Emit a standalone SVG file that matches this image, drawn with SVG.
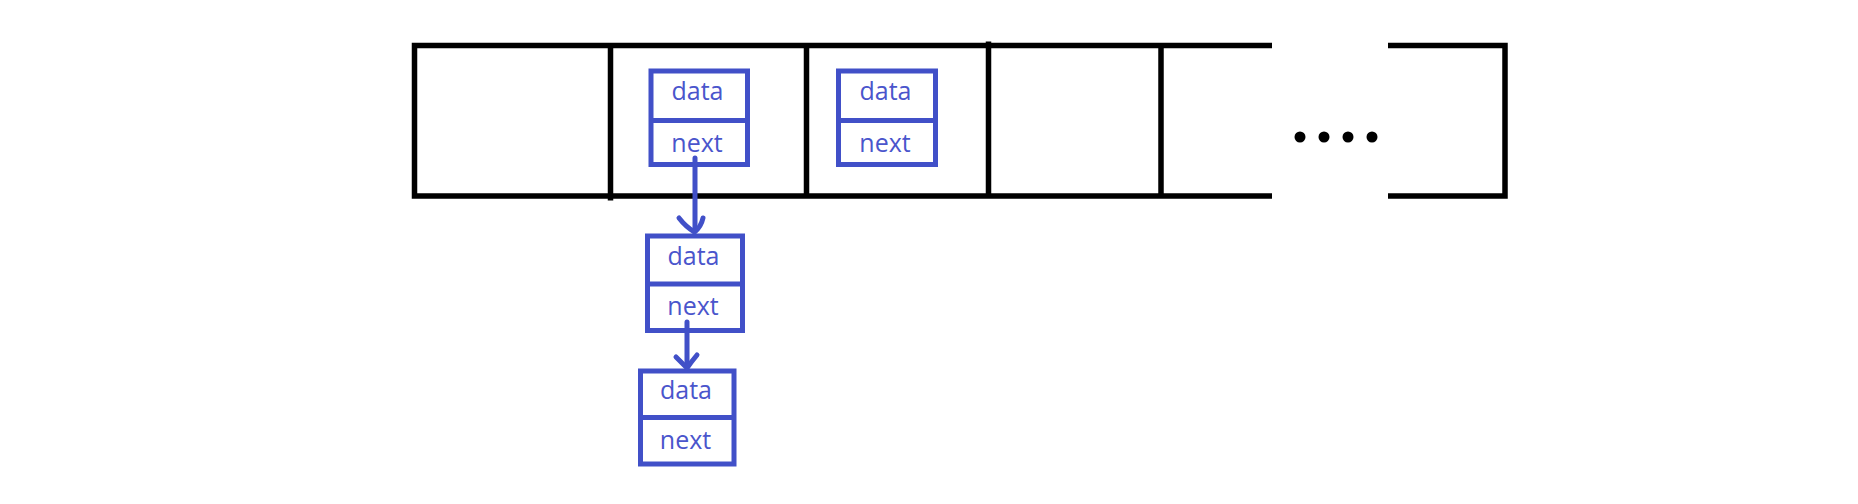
<svg xmlns="http://www.w3.org/2000/svg" width="1858" height="504" viewBox="0 0 1858 504">
<style>
.arr{stroke:#000;stroke-width:5.5;fill:none}
.nb{fill:#fff;stroke:#4150C8;stroke-width:5}
.nl{stroke:#4150C8;stroke-width:5}
.t{font-family:"Open Sans","Noto Sans",sans-serif;font-size:25px;fill:#4A55CC;text-anchor:middle}
.c{stroke:#4150C8;stroke-width:5;fill:none;stroke-linecap:round;stroke-linejoin:round}
</style>
<rect width="1858" height="504" fill="#fff"/>
<g id="array">
<path class="arr" d="M1272 45.5 H414.5 V196 H1272"/>
<path class="arr" d="M1388 45.5 H1505 V196 H1388"/>
<line class="arr" x1="610.5" y1="45.5" x2="610.5" y2="200.5"/>
<line class="arr" x1="806.5" y1="45.5" x2="806.5" y2="196"/>
<line class="arr" x1="988.5" y1="41.5" x2="988.5" y2="196"/>
<line class="arr" x1="1161" y1="45.5" x2="1161" y2="196"/>
<circle cx="1300" cy="137" r="5.5"/>
<circle cx="1324" cy="137" r="5.5"/>
<circle cx="1348" cy="137" r="5.5"/>
<circle cx="1372" cy="137" r="5.5"/>
</g>
<g id="node1">
<rect class="nb" x="651" y="71" width="96.5" height="93.5"/>
<line class="nl" x1="651" y1="120.5" x2="747.5" y2="120.5"/>
<text class="t" x="697.5" y="99.5">data</text>
<text class="t" x="697" y="151.5">next</text>
</g>
<g id="node2">
<rect class="nb" x="838.5" y="71" width="97" height="93.5"/>
<line class="nl" x1="838.5" y1="120.5" x2="935.5" y2="120.5"/>
<text class="t" x="885.5" y="99.5">data</text>
<text class="t" x="885" y="151.5">next</text>
</g>
<g id="node3">
<rect class="nb" x="647.5" y="236" width="95" height="94.5"/>
<line class="nl" x1="647.5" y1="284" x2="742.5" y2="284"/>
<text class="t" x="693.5" y="265">data</text>
<text class="t" x="693" y="315">next</text>
</g>
<g id="node4">
<rect class="nb" x="640.5" y="371" width="93.5" height="93"/>
<line class="nl" x1="640.5" y1="417.5" x2="734" y2="417.5"/>
<text class="t" x="686" y="398.5">data</text>
<text class="t" x="685.5" y="448.5">next</text>
</g>
<g id="connectors">
<path class="c" d="M695 158 V231"/>
<path class="c" d="M679 218 Q686 227 694.5 232 Q701 227 703 218"/>
<path class="c" d="M687 322 V367"/>
<path class="c" d="M676 357 Q682 363 687 368 Q692 361 697 355"/>
</g>
</svg>
